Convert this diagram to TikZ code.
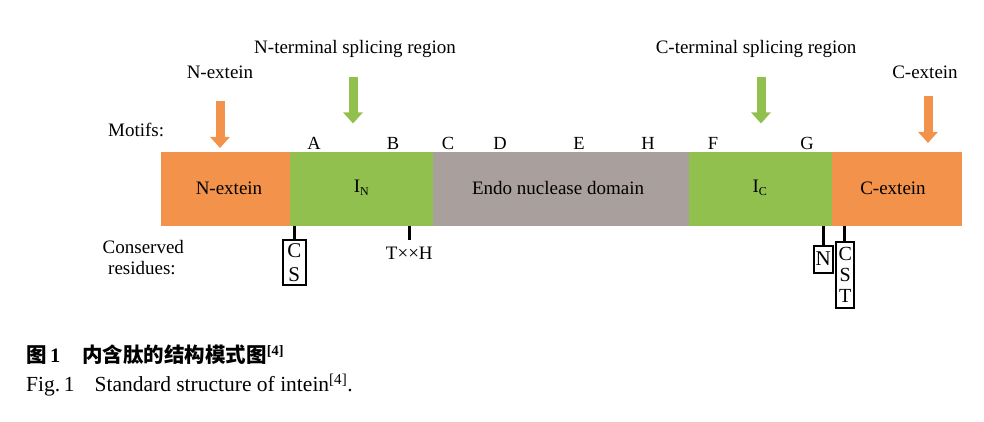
\documentclass[tikz,border=0pt]{standalone}
\usepackage{fontspec}
\setmainfont{Liberation Serif}
\newfontfamily\cjk{Noto Sans CJK SC}
\usetikzlibrary{arrows.meta}
\definecolor{orng}{HTML}{F2924B}
\definecolor{grn}{HTML}{92C04F}
\definecolor{gry}{HTML}{A9A09D}
\tikzset{
  lbl/.style={inner sep=0pt, font=\fontsize{19}{22}\selectfont},
  mot/.style={inner sep=0pt, font=\fontsize{18.5}{22}\selectfont},
  bigarrow/.style={line width=9pt, -{Triangle[length=11pt,width=19pt]}},
  tick/.style={line width=2.8pt},
  resbox/.style={draw, line width=2pt, inner sep=0pt, align=center}
}
\begin{document}
\begin{tikzpicture}[x=1pt,y=-1pt]
\useasboundingbox (0,0) rectangle (984,422);
% bar segments
\fill[orng] (161,152) rectangle (290,225.5);
\fill[grn] (290,152) rectangle (432.5,225.5);
\fill[gry] (432.5,152) rectangle (689,225.5);
\fill[grn] (689,152) rectangle (832,225.5);
\fill[orng] (832,152) rectangle (962,225.5);
% labels in bar
\node[lbl] (nex) at (229,188) {N-extein};
\node[lbl] (inn) at (361.5,188) {I\textsubscript{\fontsize{12}{12}\selectfont N}};
\node[lbl] (endo) at (558,188) {Endo nuclease domain};
\node[lbl] (icc) at (760,188) {I\textsubscript{\fontsize{12}{12}\selectfont C}};
\node[lbl] (cex) at (893,188) {C-extein};
% top labels
\node[lbl] (ntsr) at (355,49) {N-terminal splicing region};
\node[lbl] (ctsr) at (756,49) {C-terminal splicing region};
\node[lbl] (nextop) at (220,72) {N-extein};
\node[lbl] (cextop) at (925,72) {C-extein};
\node[lbl, anchor=west] (motifs) at (108,130) {Motifs:};
% arrows
\coordinate (a1s) at (220,101.5); \coordinate (a1e) at (220,148);
\coordinate (a2s) at (353,77); \coordinate (a2e) at (353,123.5);
\coordinate (a3s) at (761,77); \coordinate (a3e) at (761,123.5);
\coordinate (a4s) at (928,96.5); \coordinate (a4e) at (928,143);
\draw[bigarrow, orng] (a1s) -- (a1e);
\draw[bigarrow, grn] (a2s) -- (a2e);
\draw[bigarrow, grn] (a3s) -- (a3e);
\draw[bigarrow, orng] (a4s) -- (a4e);
% motif letters
\node[mot] (mA) at (314,143) {A};
\node[mot] (mB) at (393,143) {B};
\node[mot] (mC) at (448,143) {C};
\node[mot] (mD) at (500,143) {D};
\node[mot] (mE) at (579,143) {E};
\node[mot] (mH) at (648,143) {H};
\node[mot] (mF) at (713,143) {F};
\node[mot] (mG) at (807,143) {G};
% conserved residues
\node[lbl, anchor=west] (cons) at (102.5,246.5) {Conserved};
\node[lbl, anchor=west] (resid) at (108,268.5) {residues:};
% CS box
\coordinate (t1) at (294.3,225.5);
\node[resbox, anchor=north, minimum width=23pt, minimum height=45pt, font=\fontsize{21}{24}\selectfont] (cs) at (294.3,239.3) {C\\[-0.5pt]S};
\draw[tick] (t1) -- (cs.north);
% TxxH
\coordinate (t2) at (409.3,225.5);
\coordinate (t2b) at (409.3,239.5);
\draw[tick] (t2) -- (t2b);
\node[lbl, anchor=base] (txxh) at (409.3,259) {T××H};
% N box
\coordinate (t3) at (823.3,225.5);
\node[resbox, anchor=north, minimum width=19pt, minimum height=27pt, font=\fontsize{21}{24}\selectfont] (nb) at (823.3,244.5) {N};
\draw[tick] (t3) -- (nb.north);
% CST box
\coordinate (t4) at (844.3,225.5);
\node[resbox, anchor=north, minimum width=18.5pt, minimum height=65.5pt, font=\fontsize{20}{21}\selectfont] (cst) at (845.2,241) {C\\S\\T};
\draw[tick] (t4) -- (t4 |- cst.north);
% caption
\node[inner sep=0pt, anchor=west, font=\fontsize{20.5}{24}\selectfont] (cap1) at (26,355) {{\cjk\bfseries 图}\,\textbf{1}\hspace{22pt}{\cjk\bfseries 内含肽的结构模式图}\textsuperscript{\textbf{[4]}}};
\node[inner sep=0pt, anchor=west, font=\fontsize{21.5}{24}\selectfont] (cap2) at (26,385) {Fig.\,1\hspace{20pt}Standard structure of intein\textsuperscript{[4]}.};
\end{tikzpicture}
\end{document}
